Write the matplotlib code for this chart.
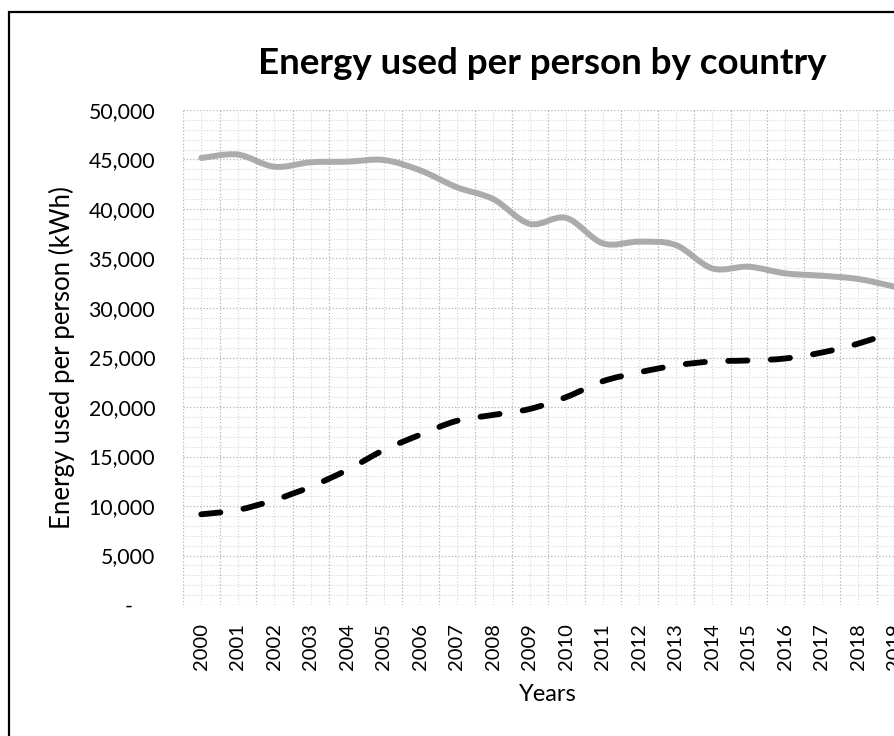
import numpy as np
import matplotlib.pyplot as plt
from matplotlib.path import Path
from matplotlib.patches import PathPatch, Rectangle
from matplotlib.ticker import FuncFormatter, MultipleLocator

plt.rcParams['font.family'] = ['Lato', 'DejaVu Sans']

years = [str(y) for y in range(2000, 2020)]
# energy use per person, kWh
country_a = [45150, 45500, 44270, 44720, 44780, 44950, 43900, 42200, 41000, 38500,
             39100, 36530, 36700, 36360, 34000, 34170, 33500, 33260, 32930, 32150]
country_b = [9160, 9600, 10600, 11950, 13640, 15650, 17200, 18600, 19200, 19800,
             21000, 22600, 23500, 24200, 24600, 24700, 24900, 25500, 26400, 27600]


def smooth_path(xs, ys, k=1 / 6):
    # cubic bezier through every point, like a spreadsheet "smoothed line"
    pts = np.column_stack([xs, ys]).astype(float)
    verts = [pts[0]]
    codes = [Path.MOVETO]
    n = len(pts)
    for i in range(n - 1):
        p0 = pts[i - 1] if i > 0 else pts[i]
        p1, p2 = pts[i], pts[i + 1]
        p3 = pts[i + 2] if i + 2 < n else pts[i + 1]
        verts += [p1 + (p2 - p0) * k, p2 - (p3 - p1) * k, p2]
        codes += [Path.CURVE4] * 3
    return Path(verts, codes)


fig = plt.figure(figsize=(8.94, 7.36), dpi=100)
ax = fig.add_axes([183 / 894, 1 - 605 / 736, 730 / 894, 495 / 736])

x = np.arange(len(years))
gray = PathPatch(smooth_path(x, country_a), fill=False, edgecolor='#ababab',
                 linewidth=4.3, capstyle='round', joinstyle='round', zorder=3)
black = PathPatch(smooth_path(x, country_b), fill=False, edgecolor='black',
                  linewidth=4.2, linestyle=(0, (3.3, 4.0)), capstyle='round',
                  joinstyle='round', zorder=4)
ax.add_patch(gray)
ax.add_patch(black)

ax.set_xlim(-0.5, len(years) - 0.5)
ax.set_ylim(0, 50000)

# category labels at centres, major gridlines on the category boundaries
ax.set_xticks(x)
ax.set_xticklabels(years, rotation=90, fontsize=14.5)
ax.tick_params(axis='x', which='both', length=0, pad=13)
for xb in np.arange(-0.5, len(years), 1):
    ax.axvline(xb, color='#b4b4b4', lw=0.9, ls=':', zorder=1)
for xc in x:
    ax.axvline(xc, color='#d6d6d6', lw=0.8, ls=':', zorder=1)

ax.yaxis.set_major_locator(MultipleLocator(5000))
ax.yaxis.set_minor_locator(MultipleLocator(1000))
ax.yaxis.set_major_formatter(FuncFormatter(lambda v, p: '-    ' if v == 0 else f'{v:,.0f}'))
ax.tick_params(axis='y', which='both', length=0, labelsize=15.3, pad=20)
ax.grid(axis='y', which='major', color='#b4b4b4', lw=0.9, ls=':', zorder=1)
ax.grid(axis='y', which='minor', color='#d6d6d6', lw=0.8, ls=':', zorder=1)
ax.set_axisbelow(True)

for s in ax.spines.values():
    s.set_visible(False)

ax.set_ylabel('Energy used per person (kWh)', fontsize=18.5, labelpad=10)
ax.set_xlabel('Years', fontsize=17, labelpad=10)

fig.text(542 / 894, 1 - 63 / 736, 'Energy used per person by country',
         ha='center', va='center', fontsize=26.5, fontweight='bold')

# chart frame
fig.patches.append(Rectangle((9 / 894, -0.1), 1.2, 1.1 - 12 / 736, transform=fig.transFigure,
                             fill=False, edgecolor='black', lw=1.6))

fig.savefig('out.png', dpi=100)
